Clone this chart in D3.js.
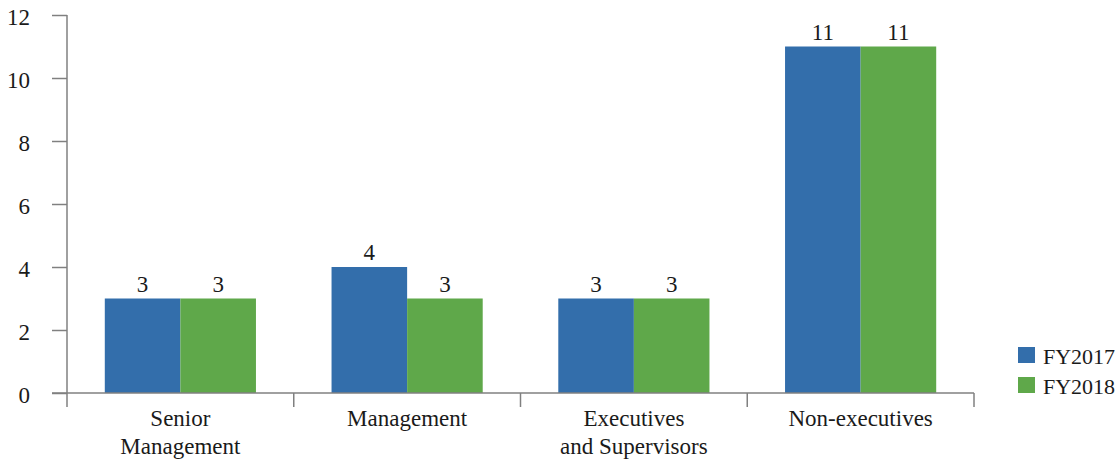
<!DOCTYPE html>
<html>
<head>
<meta charset="utf-8">
<script src="https://cdn.jsdelivr.net/npm/d3@7"></script>
<style>
  body { margin: 0; background: #fff; }
  #fig { display: block; }
  #fig text, #fig tspan { font-family: "Liberation Serif", Tinos, "Times New Roman" !important; }
</style>
</head>
<body>
<svg id="fig" width="1120" height="464" font-family="Liberation Serif"></svg>
<script>
// Employee counts by grade, two financial years
const categories = [["Senior", "Management"], ["Management"], ["Executives", "and Supervisors"], ["Non-executives"]];
const seriesNames = ["FY2017", "FY2018"];
const fy2017 = [3, 4, 3, 11];
const fy2018 = [3, 3, 3, 11];
const yTicks = [0, 2, 4, 6, 8, 10, 12];
const colors = ["#336eab", "#5fa84a"];
const faceName = "Liberation Serif";

(function () {
const svg = d3.select("#fig");
const axisColor = "#808080";
const textColor = "#1a1a1a";
const fontSize = 23;

const plotLeft = 67, plotRight = 974, plotTop = 15, plotBottom = 393;

const catKeys = categories.map(c => c.join(" "));
const x0 = d3.scaleBand().domain(catKeys).range([plotLeft, plotRight]).padding(0);
const x1 = d3.scaleBand().domain(seriesNames)
  .range([x0.bandwidth() / 6, x0.bandwidth() * 5 / 6]).padding(0);
const y = d3.scaleLinear().domain([0, 12]).range([plotBottom, plotTop]);

const rows = catKeys.map((k, i) => ({ key: k, values: [fy2017[i], fy2018[i]] }));

function styleText(sel, size) {
  return sel
    .attr("font-family", faceName)
    .attr("font-size", size || fontSize)
    .attr("fill", textColor);
}

// Bars
const groups = svg.append("g").selectAll("g").data(rows).join("g")
  .attr("transform", d => `translate(${x0(d.key)},0)`);

groups.selectAll("rect")
  .data(d => d.values.map((v, j) => ({ s: seriesNames[j], v, j })))
  .join("rect")
  .attr("x", d => x1(d.s))
  .attr("y", d => y(d.v))
  .attr("width", x1.bandwidth())
  .attr("height", d => y(0) - y(d.v))
  .attr("fill", d => colors[d.j]);

// Value labels
groups.selectAll("text.val")
  .data(d => d.values.map((v, j) => ({ s: seriesNames[j], v, j })))
  .join("text")
  .attr("class", "val")
  .attr("x", d => x1(d.s) + x1.bandwidth() / 2)
  .attr("y", d => y(d.v) - 7)
  .attr("text-anchor", "middle")
  .call(styleText)
  .text(d => d.v);

// Y axis
const yAxis = svg.append("g")
  .attr("transform", `translate(${plotLeft},0)`)
  .call(d3.axisLeft(y).tickValues(yTicks).tickSize(15).tickPadding(22).tickFormat(d3.format("d")));
yAxis.select(".domain").remove();
yAxis.attr("font-family", faceName).attr("font-size", fontSize);
yAxis.selectAll(".tick line").attr("stroke", axisColor).attr("stroke-width", 1.5);
yAxis.selectAll(".tick text").call(styleText).attr("dy", "0.4em");
yAxis.append("line")
  .attr("x1", 0).attr("x2", 0).attr("y1", plotTop).attr("y2", plotBottom + 14)
  .attr("stroke", axisColor).attr("stroke-width", 1.5);

// X axis with category separators
const xAxisG = svg.append("g");
xAxisG.append("line")
  .attr("x1", plotLeft - 15).attr("x2", plotRight).attr("y1", plotBottom).attr("y2", plotBottom)
  .attr("stroke", axisColor).attr("stroke-width", 1.5);
const seps = catKeys.map(k => x0(k) + x0.bandwidth());
xAxisG.selectAll("line.sep").data(seps).join("line")
  .attr("class", "sep")
  .attr("x1", d => d).attr("x2", d => d)
  .attr("y1", plotBottom).attr("y2", plotBottom + 14)
  .attr("stroke", axisColor).attr("stroke-width", 1.5);

// Category labels (multi-line)
const catLabels = xAxisG.selectAll("text.cat").data(categories).join("text")
  .attr("class", "cat")
  .attr("x", (d, i) => x0(catKeys[i]) + x0.bandwidth() / 2)
  .attr("y", 426)
  .attr("text-anchor", "middle")
  .call(styleText);
catLabels.selectAll("tspan").data(d => d).join("tspan")
  .attr("x", function () { return d3.select(this.parentNode).attr("x"); })
  .attr("dy", (d, i) => i === 0 ? 0 : 28)
  .text(d => d);

// Legend
const legend = svg.append("g").selectAll("g").data(seriesNames).join("g")
  .attr("transform", (d, i) => `translate(1018,${347 + i * 30})`);
legend.append("rect").attr("width", 17).attr("height", 16)
  .attr("fill", (d, i) => colors[i]);
legend.append("text").attr("x", 25).attr("y", 17)
  .call(styleText, 22).text(d => d);
})();
</script>
</body>
</html>
